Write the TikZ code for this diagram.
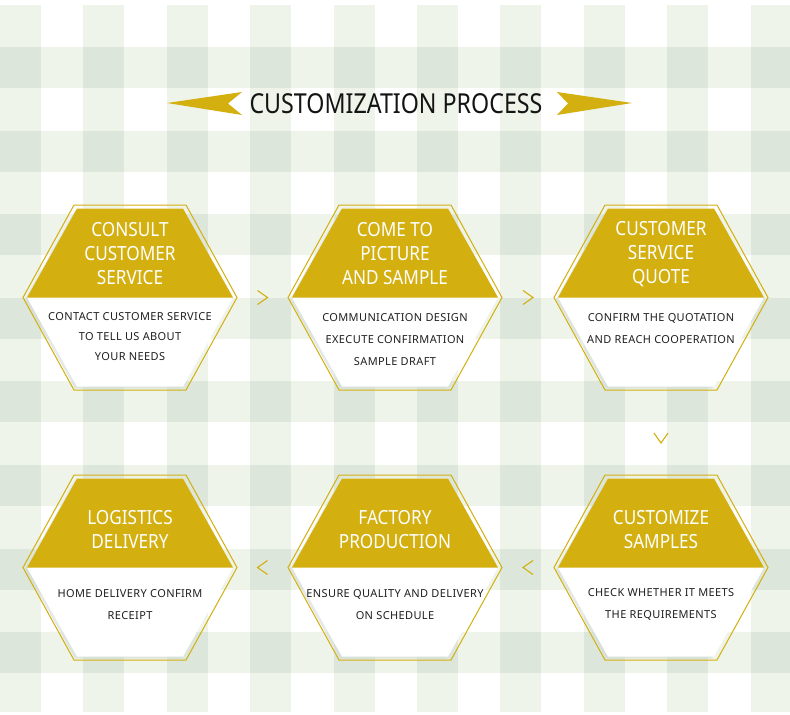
\documentclass[tikz,border=0pt]{standalone}
\usepackage{fontspec}
\setmainfont{Noto Sans}
\newfontfamily\headfont[FakeStretch=0.845]{Noto Sans}
\newfontfamily\hexheadfont[FakeStretch=0.88]{Noto Sans}
\newfontfamily\bodyfont[LetterSpace=3.5]{Noto Sans}
\usetikzlibrary{calc}
\definecolor{gold}{HTML}{D3AF10}
\definecolor{palegreen}{HTML}{EEF4EA}
\definecolor{darkgreen}{HTML}{DCE6DB}
\definecolor{hexshadow}{HTML}{D3DCD7}
\tikzset{
  hexanchor/.style={minimum width=214pt, minimum height=185pt, inner sep=0pt, draw=none},
  hextitle/.style={text=white, font=\hexheadfont\fontsize{19.5}{24}\selectfont, align=center, inner sep=0pt},
  hexbody/.style={text=black!88, font=\bodyfont\fontsize{11}{22}\selectfont, align=center, inner sep=0pt},
  chev/.style={draw=gold, line width=1.1pt, line join=miter},
  hexoutline/.style={draw=gold, line width=1pt},
  titlearrow/.style={fill=gold, draw=none},
}
\newcommand\hexstep[7]{%
  \node[hexanchor] (#3) at (#1,#2) {};
  \begin{scope}[shift={(#3.center)}]
    \fill[hexshadow, opacity=0.6] (-105,2) -- (-55,-87) -- (51,-87) -- (101,2) -- (51,91) -- (-55,91) -- cycle;
    \fill[white] (-103,0) -- (-53,-89) -- (53,-89) -- (103,0) -- (53,89) -- (-53,89) -- cycle;
    \fill[gold] (-103,0) -- (-53,-89) -- (53,-89) -- (103,0) -- cycle;
    \draw[hexoutline] (-107,0) -- (-56,-92.5) -- (56,-92.5) -- (107,0) -- (56,92.5) -- (-56,92.5) -- cycle;
  \end{scope}
  \node[hextitle] at ($(#3)+(0,#5)$) {#4};
  \node[hexbody] at ($(#3)+(0,#7)$) {#6};
}
\begin{document}
\begin{tikzpicture}[x=1pt, y=-1pt]
\useasboundingbox (0,0) rectangle (790,715);
\fill[white] (0,0) rectangle (790,715);
% gingham background
\foreach \k in {0,...,9} {
  \fill[palegreen] ({83.4*\k},5) rectangle ({83.4*\k+41},712);
}
\foreach \j in {0,...,7} {
  \fill[palegreen] (0,{47+83.6*\j}) rectangle (790,{88+83.6*\j});
  \foreach \k in {0,...,9} {
    \fill[darkgreen] ({83.4*\k},{47+83.6*\j}) rectangle ({83.4*\k+41},{88+83.6*\j});
  }
}
% title
\node[text=black!92, font=\headfont\fontsize{27.5}{27.5}\selectfont, inner sep=0pt] (title) at (396,104) {CUSTOMIZATION PROCESS};
\begin{scope}[shift={(title.center)}]
  \fill[titlearrow] (-229,-1) -- (-154,-12) -- (-168,-0.5) -- (-154,11) -- cycle;
  \fill[titlearrow] (236,-1) -- (161,-12) -- (172,-0.5) -- (161,11) -- cycle;
\end{scope}
% steps
\hexstep{130}{297.5}{h1}{CONSULT\\CUSTOMER\\SERVICE}{-44}{CONTACT CUSTOMER SERVICE\\[-2pt]TO TELL US ABOUT\\[-2pt]YOUR NEEDS}{39}
\hexstep{395}{297.5}{h2}{COME TO\\PICTURE\\AND SAMPLE}{-44}{COMMUNICATION DESIGN\\EXECUTE CONFIRMATION\\SAMPLE DRAFT}{42.5}
\hexstep{661}{297.5}{h3}{CUSTOMER\\SERVICE\\QUOTE}{-43}{CONFIRM THE QUOTATION\\AND REACH COOPERATION}{31.5}
\hexstep{661}{567.5}{h6}{CUSTOMIZE\\SAMPLES}{-38}{CHECK WHETHER IT MEETS\\THE REQUIREMENTS}{37}
\hexstep{395}{567.5}{h5}{FACTORY\\PRODUCTION}{-38}{ENSURE QUALITY AND DELIVERY\\ON SCHEDULE}{37}
\hexstep{130}{567.5}{h4}{LOGISTICS\\DELIVERY}{-38}{HOME DELIVERY CONFIRM\\RECEIPT}{37}
% chevrons
\coordinate (c12) at ($(h1.east)!0.5!(h2.west)$);
\coordinate (c23) at ($(h2.east)!0.5!(h3.west)$);
\coordinate (c36) at ($(h3.south)!0.565!(h6.north)$);
\coordinate (c65) at ($(h6.west)!0.5!(h5.east)$);
\coordinate (c54) at ($(h5.west)!0.5!(h4.east)$);
\draw[chev] ($(c12)+(-5,-7)$) -- ($(c12)+(5,0)$) -- ($(c12)+(-5,7)$);
\draw[chev] ($(c23)+(-5,-7)$) -- ($(c23)+(5,0)$) -- ($(c23)+(-5,7)$);
\draw[chev] ($(c36)+(-7,-5)$) -- ($(c36)+(0,5)$) -- ($(c36)+(7,-5)$);
\draw[chev] ($(c65)+(5,-7)$) -- ($(c65)+(-5,0)$) -- ($(c65)+(5,7)$);
\draw[chev] ($(c54)+(5,-7)$) -- ($(c54)+(-5,0)$) -- ($(c54)+(5,7)$);
\end{tikzpicture}
\end{document}
